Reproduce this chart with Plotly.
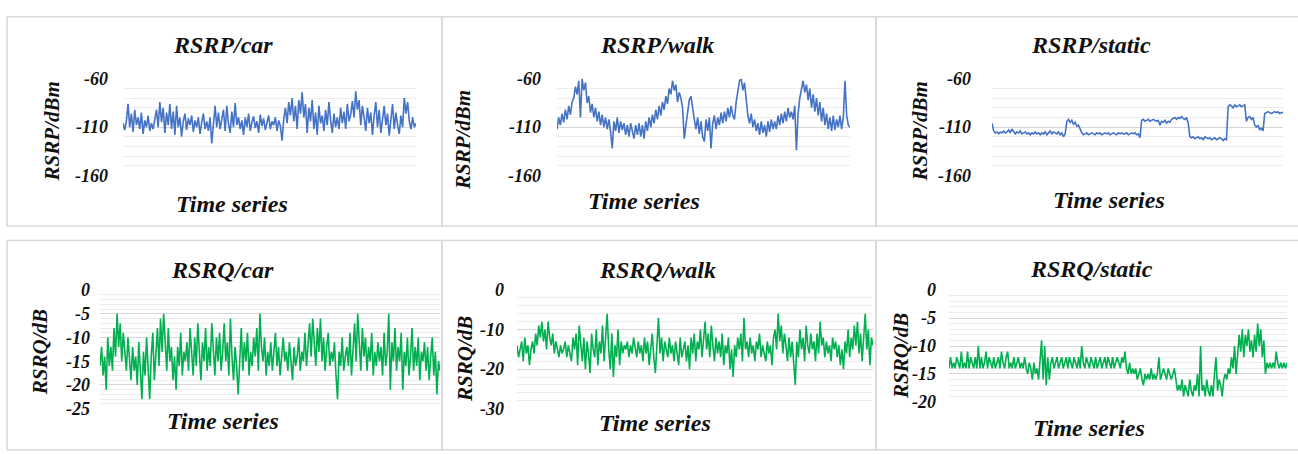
import plotly.graph_objects as go

W, H = 1298, 454

# ---------------- data ----------------
rsrp_car = [
    -106, -113, -104, -86, -110, -96, -115, -92, -108, -100,
    -112, -95, -117, -103, -110, -98, -114, -106, -112, -101,
    -92, -110, -84, -105, -90, -116, -95, -108, -86, -112,
    -94, -118, -88, -110, -100, -120, -104, -96, -113, -101,
    -108, -98, -115, -103, -110, -100, -117, -105, -96, -112,
    -104, -114, -100, -127, -106, -88, -110, -95, -112, -102,
    -92, -114, -88, -107, -116, -94, -110, -85, -108, -100,
    -112, -103, -118, -100, -110, -96, -114, -105, -99, -111,
    -104, -116, -97, -109, -101, -113, -106, -98, -112, -104,
    -108, -100, -114, -103, -109, -124, -102, -90, -106, -84,
    -98, -80, -104, -88, -112, -82, -96, -74, -100, -86,
    -116, -90, -104, -82, -112, -95, -118, -88, -106, -98,
    -114, -92, -108, -84, -103, -116, -96, -110, -100, -112,
    -90, -106, -94, -112, -86, -104, -97, -83, -100, -73,
    -92, -82, -108, -88, -100, -114, -90, -106, -95, -118,
    -98, -84, -110, -92, -116, -100, -88, -108, -96, -119,
    -102, -86, -112, -95, -108, -117, -98, -110, -80, -96,
    -84, -104, -112, -100, -110, -106,
]

rsrp_walk = [
    -112, -100, -108, -96, -105, -92, -102, -88, -97, -84,
    -80, -68, -76, -62, -100, -60, -72, -64, -85, -78,
    -95, -86, -100, -90, -104, -94, -108, -97, -110, -100,
    -112, -102, -115, -132, -104, -114, -100, -116, -104, -113,
    -106, -118, -108, -120, -106, -116, -122, -108, -118, -106,
    -120, -108, -122, -104, -114, -100, -110, -97, -106, -92,
    -102, -88, -98, -84, -92, -78, -86, -70, -76, -62,
    -72, -66, -84, -74, -80, -90, -122, -108, -92, -82,
    -78, -92, -102, -112, -100, -117, -104, -120, -125, -102,
    -114, -100, -132, -106, -98, -112, -100, -108, -95, -106,
    -94, -104, -90, -100, -88, -98, -102, -84, -70, -62,
    -60, -72, -64, -80, -98, -106, -96, -110, -102, -114,
    -106, -118, -104, -116, -108, -120, -104, -115, -102, -112,
    -104, -112, -98, -108, -96, -106, -94, -104, -90, -100,
    -94, -102, -88, -134, -96, -80, -72, -62, -74, -66,
    -82, -70, -90, -76, -94, -80, -98, -84, -104, -90,
    -108, -96, -112, -100, -114, -98, -113, -102, -110, -98,
    -112, -100, -62, -98, -108, -110,
]

rsrp_static = [
    -106, -114, -116, -115, -117, -115, -116, -114, -116, -115,
    -113, -116, -112, -115, -117, -115, -116, -114, -117, -116,
    -115, -117, -116, -118, -116, -117, -115, -117, -116, -118,
    -116, -117, -115, -118, -116, -114, -117, -115, -116, -117,
    -115, -118, -116, -120, -117, -104, -102, -105, -103, -107,
    -105, -109, -108, -112, -116, -118, -117, -116, -118, -117,
    -116, -117, -118, -116, -117, -116, -118, -117, -116, -117,
    -116, -118, -117, -116, -117, -118, -116, -117, -116, -117,
    -117, -116, -118, -117, -116, -117, -116, -118, -117, -121,
    -103, -102, -104, -103, -102, -104, -103, -102, -103, -104,
    -103, -108, -104, -105, -103, -106, -104, -105, -102, -101,
    -100, -102, -100, -101, -99, -101, -102, -100, -106, -120,
    -121, -120, -122, -121, -120, -122, -121, -123, -120, -121,
    -122, -121, -123, -122, -121, -123, -122, -121, -122, -124,
    -122, -123, -89, -87, -88, -90, -87, -89, -88, -87,
    -89, -88, -87, -104, -100, -99, -102, -100, -108, -110,
    -108, -113, -111, -114, -96, -95, -94, -95, -96, -95,
    -94, -95, -94, -96, -95, -95,
]

rsrq_car = [
    -16, -12, -18, -14, -21, -10, -16, -12, -17, -8,
    -14, -5, -12, -7, -15, -9, -13, -17, -10, -15,
    -19, -12, -17, -14, -20, -11, -16, -23, -13, -18,
    -10, -17, -23, -14, -9, -19, -12, -8, -16, -6,
    -13, -5, -11, -17, -8, -15, -12, -19, -14, -21,
    -12, -16, -9, -18, -13, -15, -11, -17, -8, -14,
    -18, -10, -16, -7, -14, -19, -11, -15, -8, -17,
    -12, -16, -7, -14, -18, -10, -15, -9, -17, -13,
    -7, -15, -11, -18, -6, -14, -19, -12, -16, -22,
    -13, -8, -17, -11, -15, -9, -18, -13, -16, -10,
    -14, -8, -17, -5, -12, -15, -10, -18, -13, -16,
    -11, -17, -13, -9, -16, -12, -18, -14, -10, -15,
    -13, -17, -11, -15, -19, -12, -16, -14, -10, -17,
    -13, -15, -9, -16, -12, -7, -14, -6, -11, -16,
    -8, -13, -6, -15, -10, -17, -12, -9, -16, -13,
    -15, -11, -18, -23, -13, -16, -10, -17, -14, -12,
    -16, -9, -18, -12, -7, -15, -5, -11, -17, -8,
    -14, -10, -17, -12, -15, -9, -18, -13, -16, -11,
    -15, -12, -18, -9, -16, -13, -5, -21, -11, -15,
    -8, -17, -12, -15, -9, -21, -13, -16, -10, -18,
    -14, -8, -17, -12, -16, -10, -19, -13, -15, -11,
    -17, -12, -19, -14, -10, -18, -13, -22, -15, -17,
]

rsrq_walk = [
    -14, -17, -15, -13, -18, -12, -16, -14, -19, -15,
    -13, -16, -11, -14, -9, -12, -8, -13, -10, -15,
    -8, -12, -14, -11, -16, -13, -15, -17, -14, -16,
    -15, -13, -17, -14, -16, -18, -12, -15, -11, -19,
    -9, -14, -18, -12, -20, -13, -16, -21, -11, -15,
    -17, -10, -19, -13, -16, -9, -18, -12, -6, -15,
    -20, -11, -22, -14, -17, -10, -19, -13, -16, -14,
    -15, -13, -17, -14, -16, -12, -15, -17, -13, -16,
    -14, -18, -12, -16, -13, -19, -15, -11, -17, -21,
    -14, -7, -16, -12, -18, -13, -15, -17, -12, -16,
    -14, -18, -13, -16, -19, -12, -17, -15, -13, -18,
    -14, -20, -12, -16, -11, -18, -13, -15, -10, -17,
    -12, -8, -15, -11, -17, -9, -14, -18, -12, -16,
    -13, -17, -11, -19, -14, -16, -12, -20, -15, -22,
    -14, -17, -12, -15, -11, -18, -7, -15, -13, -17,
    -12, -16, -14, -18, -13, -15, -11, -17, -14, -16,
    -18, -13, -16, -14, -19, -12, -10, -15, -6, -13,
    -9, -16, -11, -14, -18, -12, -17, -13, -20, -24,
    -13, -17, -10, -15, -12, -18, -9, -14, -16, -11,
    -15, -13, -18, -11, -16, -8, -14, -12, -17, -13,
    -16, -14, -18, -12, -15, -13, -17, -14, -19, -15,
    -20, -13, -16, -10, -17, -12, -15, -9, -14, -8,
    -16, -11, -18, -13, -6, -15, -10, -19, -12, -14,
]

rsrq_static = [
    -14, -12, -14, -13, -14, -12, -13, -14, -11, -14,
    -13, -14, -11, -14, -12, -13, -14, -12, -14, -10,
    -14, -12, -14, -13, -11, -14, -12, -13, -14, -12,
    -14, -13, -12, -14, -11, -13, -14, -12, -11, -14,
    -13, -14, -12, -14, -13, -12, -14, -13, -14, -12,
    -14, -15, -13, -14, -16, -13, -15, -14, -16, -13,
    -9, -16, -10, -17, -12, -16, -13, -12, -14, -13,
    -12, -14, -13, -12, -14, -13, -12, -14, -12, -13,
    -14, -12, -13, -14, -12, -14, -10, -13, -14, -12,
    -13, -14, -12, -13, -14, -12, -14, -13, -12, -14,
    -13, -12, -14, -12, -13, -14, -12, -14, -13, -12,
    -13, -14, -12, -13, -11, -14, -15, -13, -15, -14,
    -15, -14, -16, -15, -14, -16, -17, -15, -16, -15,
    -16, -14, -16, -15, -16, -15, -12, -16, -15, -14,
    -15, -16, -14, -15, -16, -15, -14, -16, -18, -17,
    -18, -16, -19, -17, -18, -19, -16, -18, -19, -17,
    -18, -15, -19, -10, -18, -17, -19, -16, -18, -19,
    -17, -19, -15, -12, -18, -16, -17, -19, -16, -15,
    -16, -14, -15, -12, -14, -10, -15, -12, -8, -11,
    -7, -12, -8, -10, -7, -11, -9, -12, -8, -11,
    -6, -10, -7, -12, -9, -15, -13, -14, -13, -14,
    -13, -14, -11, -13, -14, -13, -14, -13, -14, -13,
]

titles = ["RSRP/car", "RSRP/walk", "RSRP/static", "RSRQ/car", "RSRQ/walk", "RSRQ/static"]
y_titles = ["RSRP/dBm", "RSRP/dBm", "RSRP/dBm", "RSRQ/dB", "RSRQ/dB", "RSRQ/dB"]
x_title = "Time series"
rsrp_ticks = [-60, -110, -160]
rsrq_car_ticks = [0, -5, -10, -15, -20, -25]
rsrq_walk_ticks = [0, -10, -20, -30]
rsrq_static_ticks = [0, -5, -10, -15, -20]

series = [rsrp_car, rsrp_walk, rsrp_static, rsrq_car, rsrq_walk, rsrq_static]
ticks = [rsrp_ticks, rsrp_ticks, rsrp_ticks, rsrq_car_ticks, rsrq_walk_ticks, rsrq_static_ticks]

# ---------------- styling / layout ----------------
BLUE = "#4472C4"
GREEN = "#00B050"
colors = [BLUE, BLUE, BLUE, GREEN, GREEN, GREEN]
FONT = "Liberation Serif"

# plot areas in pixels: (x0, x1, ytop, ybottom)
areas = [
    (123, 416, 72, 173),
    (557, 850, 72, 173),
    (992, 1283, 72, 173),
    (100, 440, 293, 417),
    (517, 873, 293, 417),
    (949, 1287, 293, 410),
]
minor_dt = [10, 10, 10, 1, 2, 1]
standoff = [14, 15, 20, 9, 12, 12]
title_pos = [(223, 37), (657, 37), (1091, 37), (222, 272), (657, 272), (1091, 271)]
xt_pos = [(232, 203), (644, 200), (1109, 199), (223, 430), (655, 432), (1089, 437)]
yt_pos = [(52, 127), (463, 136), (920, 127), (40, 358), (465, 365), (901, 362)]

def px(x):
    return x / W

def py(y):
    return 1 - y / H

fig = go.Figure()
layout = dict(
    width=W, height=H, margin=dict(l=0, r=0, t=0, b=0),
    paper_bgcolor="white", plot_bgcolor="white", showlegend=False,
)
annotations = []
for i, (s, c, tv) in enumerate(zip(series, colors, ticks)):
    n = i + 1
    xa = "x" if n == 1 else f"x{n}"
    ya = "y" if n == 1 else f"y{n}"
    fig.add_trace(go.Scatter(x=list(range(len(s))), y=s, mode="lines",
                             line=dict(color=c, width=1.6), xaxis=xa, yaxis=ya,
                             hoverinfo="skip"))
    x0, x1, yt, yb = areas[i]
    layout[f"xaxis{n}"] = dict(
        domain=[px(x0), px(x1)], anchor=ya, range=[0, len(s) - 1],
        showgrid=False, zeroline=False, showticklabels=False, showline=False,
    )
    layout[f"yaxis{n}"] = dict(
        domain=[py(yb), py(yt)], anchor=xa, range=[min(tv), max(tv)],
        tickvals=tv, ticktext=[str(t) for t in tv],
        tickfont=dict(family=FONT, size=18, color="#111", weight="bold", style="italic"),
        ticklabelstandoff=standoff[i],
        showgrid=True, gridcolor="#d6d6d6", gridwidth=1,
        minor=dict(dtick=minor_dt[i], tick0=0, showgrid=True, gridcolor="#ececec", gridwidth=1),
        zeroline=False, showline=False, ticks="",
    )
    tx, ty = title_pos[i]
    annotations.append(dict(text=titles[i], x=px(tx), y=py(ty), xref="paper", yref="paper",
                            showarrow=False, xanchor="center", yanchor="middle",
                            font=dict(family=FONT, size=24, color="#111", weight="bold", style="italic")))
    tx, ty = xt_pos[i]
    annotations.append(dict(text=x_title, x=px(tx), y=py(ty), xref="paper", yref="paper",
                            showarrow=False, xanchor="center", yanchor="middle",
                            font=dict(family=FONT, size=24, color="#111", weight="bold", style="italic")))
    tx, ty = yt_pos[i]
    annotations.append(dict(text=y_titles[i], x=px(tx), y=py(ty), xref="paper", yref="paper",
                            showarrow=False, xanchor="center", yanchor="middle", textangle=-90,
                            font=dict(family=FONT, size=21, color="#111", weight="bold", style="italic")))

# panel borders
shapes = []
boxes = [(7, 442, 7, 226), (442, 876, 7, 226), (876, 1300, 7, 226),
         (7, 442, 241, 460), (442, 876, 241, 460), (876, 1300, 241, 460)]
for (bx0, bx1, by0, by1) in boxes:
    shapes.append(dict(type="rect", xref="paper", yref="paper",
                       x0=px(bx0), x1=px(bx1), y0=py(by1), y1=py(by0),
                       line=dict(color="#d9d9d9", width=1.5), layer="below"))

layout["annotations"] = annotations
layout["shapes"] = shapes
fig.update_layout(**layout)
fig.write_html("out.html")
